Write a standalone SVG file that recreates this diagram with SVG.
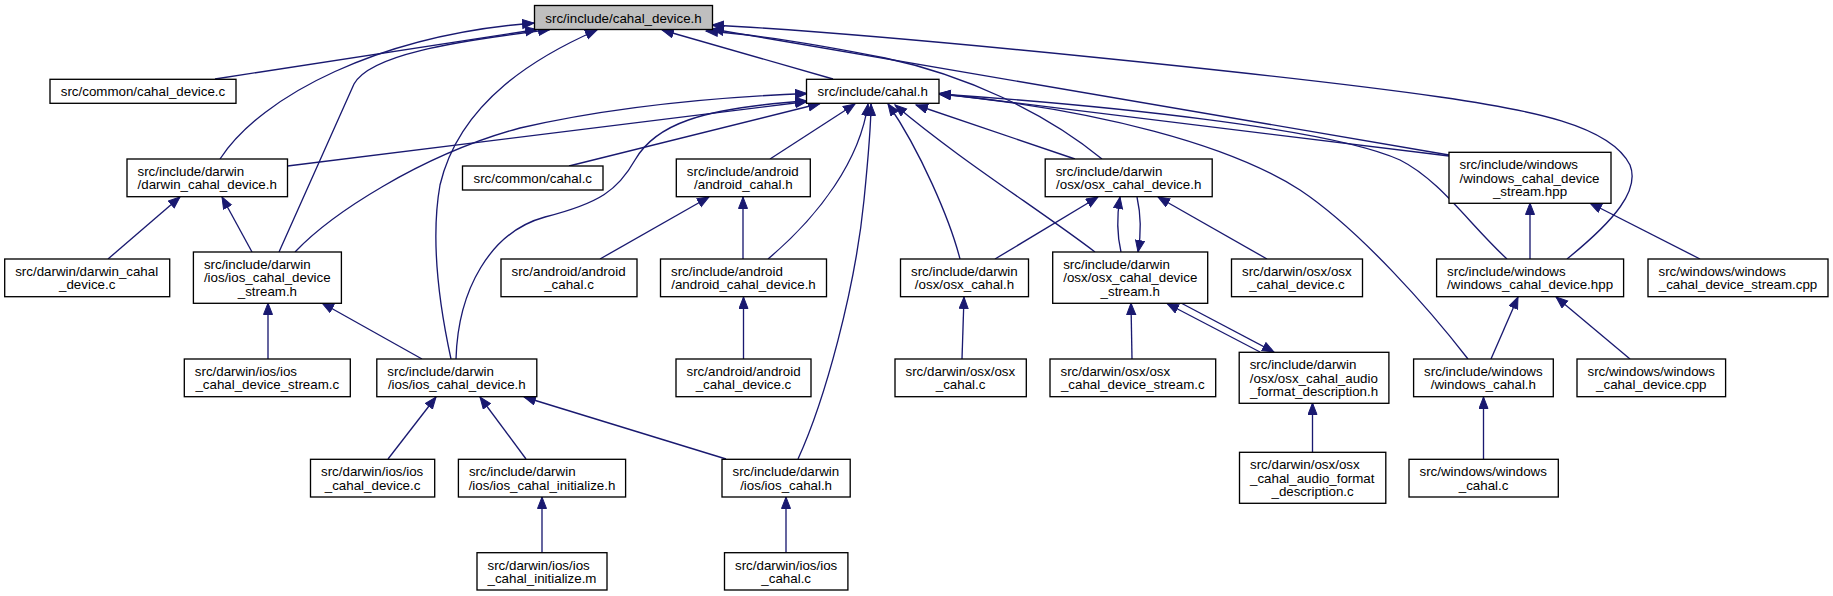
<svg xmlns="http://www.w3.org/2000/svg" width="1833" height="596" viewBox="0 0 1833 596">
<style>
.n rect{fill:#fff;stroke:#000;stroke-width:1.33}
#n0 rect{fill:#bfbfbf}
text{font-family:"Liberation Sans",Arial,Helvetica,sans-serif;font-size:13.33px;fill:#000}
.m{text-anchor:middle}
.e path{fill:none;stroke:#191970;stroke-width:1.33;marker-end:url(#a)}
</style>
<defs>
<marker id="a" markerWidth="14" markerHeight="12" refX="12" refY="5" orient="auto" markerUnits="userSpaceOnUse">
<path d="M0.5,0.5 L12,5 L0.5,9.5 z" fill="#191970" stroke="#191970" stroke-width="1"/>
</marker>
</defs>
<rect width="1833" height="596" fill="#fff"/>
<g class="e">
<path d="M215,79 L537,29.5"/>
<path d="M220,159 C262,95 380,35 534,23"/>
<path d="M279,252 L354,84 C370,55 450,42 550,29.5"/>
<path d="M451,359 C436,290 432,230 440,185 C460,100 540,55 597,30"/>
<path d="M833,79 L662,30"/>
<path d="M1102,159 C1045,112 965,75 885,58 C810,43 750,34 706,31"/>
<path d="M1449,155 L712,29"/>
<path d="M1567,259 C1615,220 1640,190 1630,165 C1610,125 1530,110 1440,97 C1300,77 900,35 712,25"/>
<path d="M287.5,166 L807,101.5"/>
<path d="M295,252 C330,215 420,155 520,128 C620,105 720,97 807,93.5"/>
<path d="M569,166 L820,103.5"/>
<path d="M456,359 C458,290 490,232 545,217 C600,203 618,190 635,160 C655,125 700,108 807,101"/>
<path d="M770,159 L855,104"/>
<path d="M768,259 C820,215 860,160 868,104"/>
<path d="M798,459 C825,400 855,290 864,200 C868,160 871,130 871,104"/>
<path d="M960,259 C950,220 920,150 888,104"/>
<path d="M1095,252 C1040,210 960,160 895,105"/>
<path d="M1075,159 L916,105"/>
<path d="M1449,156 L939,93.5"/>
<path d="M1507,259 C1470,225 1440,180 1400,160 C1330,128 1100,105 939,94"/>
<path d="M1468,359 C1430,310 1360,230 1300,190 C1230,145 1100,110 939,94"/>
<path d="M108,259 L180,197"/>
<path d="M252,252 L222,197"/>
<path d="M600,259 L709,197"/>
<path d="M743,259 L743,197"/>
<path d="M743.5,359 L743.5,297"/>
<path d="M995,259 L1098,197"/>
<path d="M1121,252 C1117,235 1117,215 1120,197"/>
<path d="M1137,197 C1141,215 1141,235 1138,252"/>
<path d="M1267,259 L1158,197"/>
<path d="M1132,359 L1131,303"/>
<path d="M1260,352 L1167,303.5"/>
<path d="M1181,303 L1274,352"/>
<path d="M962,359 L964,297"/>
<path d="M268,359 L268,303"/>
<path d="M422,359 L322,303"/>
<path d="M388,459 L436,397"/>
<path d="M526,459 L480,397"/>
<path d="M726,459 L524,397"/>
<path d="M542,553 L542,497"/>
<path d="M786,553 L786,497"/>
<path d="M1530,259 L1530,203"/>
<path d="M1700,259 L1590,203"/>
<path d="M1491,359 L1518,297"/>
<path d="M1630,359 L1556,297"/>
<path d="M1312.5,452 L1312.5,403"/>
<path d="M1483.5,459 L1483.5,397"/>
</g>
<g id="n0" class="n"><rect x="534.5" y="5.5" width="178" height="24"/><text class="m" x="623.5" y="22.5">src/include/cahal_device.h</text></g>
<g id="n1" class="n"><rect x="50" y="79.3" width="186" height="24"/><text class="m" x="143" y="96.3">src/common/cahal_device.c</text></g>
<g id="n2" class="n"><rect x="806.5" y="79.3" width="132.5" height="24"/><text class="m" x="872.75" y="96.3">src/include/cahal.h</text></g>
<g id="n3" class="n"><rect x="127" y="159" width="160.5" height="37.7"/><text x="137.5" y="176">src/include/darwin</text><text class="m" x="207.25" y="189.3">/darwin_cahal_device.h</text></g>
<g id="n4" class="n"><rect x="462.5" y="166" width="140.5" height="24"/><text class="m" x="532.75" y="183">src/common/cahal.c</text></g>
<g id="n5" class="n"><rect x="676.3" y="159" width="134" height="37.7"/><text x="686.8" y="176">src/include/android</text><text class="m" x="743.3" y="189.3">/android_cahal.h</text></g>
<g id="n6" class="n"><rect x="1045.2" y="159" width="167" height="37.7"/><text x="1055.7" y="176">src/include/darwin</text><text class="m" x="1128.7" y="189.3">/osx/osx_cahal_device.h</text></g>
<g id="n7" class="n"><rect x="1449" y="152.3" width="162" height="51"/><text x="1459.5" y="169.3">src/include/windows</text><text x="1459.5" y="182.6">/windows_cahal_device</text><text class="m" x="1530" y="196">_stream.hpp</text></g>
<g id="n8" class="n"><rect x="4.7" y="259" width="165" height="37.7"/><text x="15.2" y="276">src/darwin/darwin_cahal</text><text class="m" x="87.2" y="289.3">_device.c</text></g>
<g id="n9" class="n"><rect x="193.4" y="252" width="148" height="51.3"/><text x="203.9" y="269">src/include/darwin</text><text x="203.9" y="282.3">/ios/ios_cahal_device</text><text class="m" x="267.4" y="295.6">_stream.h</text></g>
<g id="n10" class="n"><rect x="501" y="259" width="136" height="37.7"/><text x="511.5" y="276">src/android/android</text><text class="m" x="569" y="289.3">_cahal.c</text></g>
<g id="n11" class="n"><rect x="660.5" y="259" width="166" height="37.7"/><text x="671" y="276">src/include/android</text><text class="m" x="743.5" y="289.3">/android_cahal_device.h</text></g>
<g id="n12" class="n"><rect x="900.5" y="259" width="128" height="37.7"/><text x="911" y="276">src/include/darwin</text><text class="m" x="964.5" y="289.3">/osx/osx_cahal.h</text></g>
<g id="n13" class="n"><rect x="1052.7" y="252" width="155" height="51.3"/><text x="1063.2" y="269">src/include/darwin</text><text x="1063.2" y="282.3">/osx/osx_cahal_device</text><text class="m" x="1130.2" y="295.6">_stream.h</text></g>
<g id="n14" class="n"><rect x="1231.5" y="259" width="131" height="37.7"/><text x="1242" y="276">src/darwin/osx/osx</text><text class="m" x="1297" y="289.3">_cahal_device.c</text></g>
<g id="n15" class="n"><rect x="1436.6" y="259" width="187" height="37.7"/><text x="1447.1" y="276">src/include/windows</text><text class="m" x="1530.1" y="289.3">/windows_cahal_device.hpp</text></g>
<g id="n16" class="n"><rect x="1648" y="259" width="180" height="37.7"/><text x="1658.5" y="276">src/windows/windows</text><text class="m" x="1738" y="289.3">_cahal_device_stream.cpp</text></g>
<g id="n17" class="n"><rect x="184.3" y="359" width="166" height="37.7"/><text x="194.8" y="376">src/darwin/ios/ios</text><text class="m" x="267.3" y="389.3">_cahal_device_stream.c</text></g>
<g id="n18" class="n"><rect x="376.8" y="359" width="160" height="37.7"/><text x="387.3" y="376">src/include/darwin</text><text class="m" x="456.8" y="389.3">/ios/ios_cahal_device.h</text></g>
<g id="n19" class="n"><rect x="676" y="359" width="135" height="37.7"/><text x="686.5" y="376">src/android/android</text><text class="m" x="743.5" y="389.3">_cahal_device.c</text></g>
<g id="n20" class="n"><rect x="895" y="359" width="131.3" height="37.7"/><text x="905.5" y="376">src/darwin/osx/osx</text><text class="m" x="960.6" y="389.3">_cahal.c</text></g>
<g id="n21" class="n"><rect x="1050" y="359" width="165.7" height="37.7"/><text x="1060.5" y="376">src/darwin/osx/osx</text><text class="m" x="1132.8" y="389.3">_cahal_device_stream.c</text></g>
<g id="n22" class="n"><rect x="1239.2" y="352.3" width="149.7" height="51"/><text x="1249.7" y="369.3">src/include/darwin</text><text x="1249.7" y="382.6">/osx/osx_cahal_audio</text><text class="m" x="1314" y="396">_format_description.h</text></g>
<g id="n23" class="n"><rect x="1413.6" y="359" width="139.7" height="37.7"/><text x="1424.1" y="376">src/include/windows</text><text class="m" x="1483.4" y="389.3">/windows_cahal.h</text></g>
<g id="n24" class="n"><rect x="1577" y="359" width="148.6" height="37.7"/><text x="1587.5" y="376">src/windows/windows</text><text class="m" x="1651.3" y="389.3">_cahal_device.cpp</text></g>
<g id="n25" class="n"><rect x="310.5" y="459.3" width="124.2" height="37.7"/><text x="321" y="476.3">src/darwin/ios/ios</text><text class="m" x="372.6" y="489.6">_cahal_device.c</text></g>
<g id="n26" class="n"><rect x="458.4" y="459.3" width="167.2" height="37.7"/><text x="468.9" y="476.3">src/include/darwin</text><text class="m" x="542" y="489.6">/ios/ios_cahal_initialize.h</text></g>
<g id="n27" class="n"><rect x="722" y="459.3" width="128.2" height="37.7"/><text x="732.5" y="476.3">src/include/darwin</text><text class="m" x="786.1" y="489.6">/ios/ios_cahal.h</text></g>
<g id="n28" class="n"><rect x="1239.5" y="452.3" width="146.3" height="51"/><text x="1250" y="469.3">src/darwin/osx/osx</text><text x="1250" y="482.6">_cahal_audio_format</text><text class="m" x="1312.6" y="496">_description.c</text></g>
<g id="n29" class="n"><rect x="1409" y="459.3" width="149.3" height="37.7"/><text x="1419.5" y="476.3">src/windows/windows</text><text class="m" x="1483.6" y="489.6">_cahal.c</text></g>
<g id="n30" class="n"><rect x="477" y="552.7" width="130" height="37.3"/><text x="487.5" y="569.7">src/darwin/ios/ios</text><text class="m" x="542" y="583">_cahal_initialize.m</text></g>
<g id="n31" class="n"><rect x="724.5" y="552.7" width="123.4" height="37.3"/><text x="735" y="569.7">src/darwin/ios/ios</text><text class="m" x="786.2" y="583">_cahal.c</text></g>
</svg>
